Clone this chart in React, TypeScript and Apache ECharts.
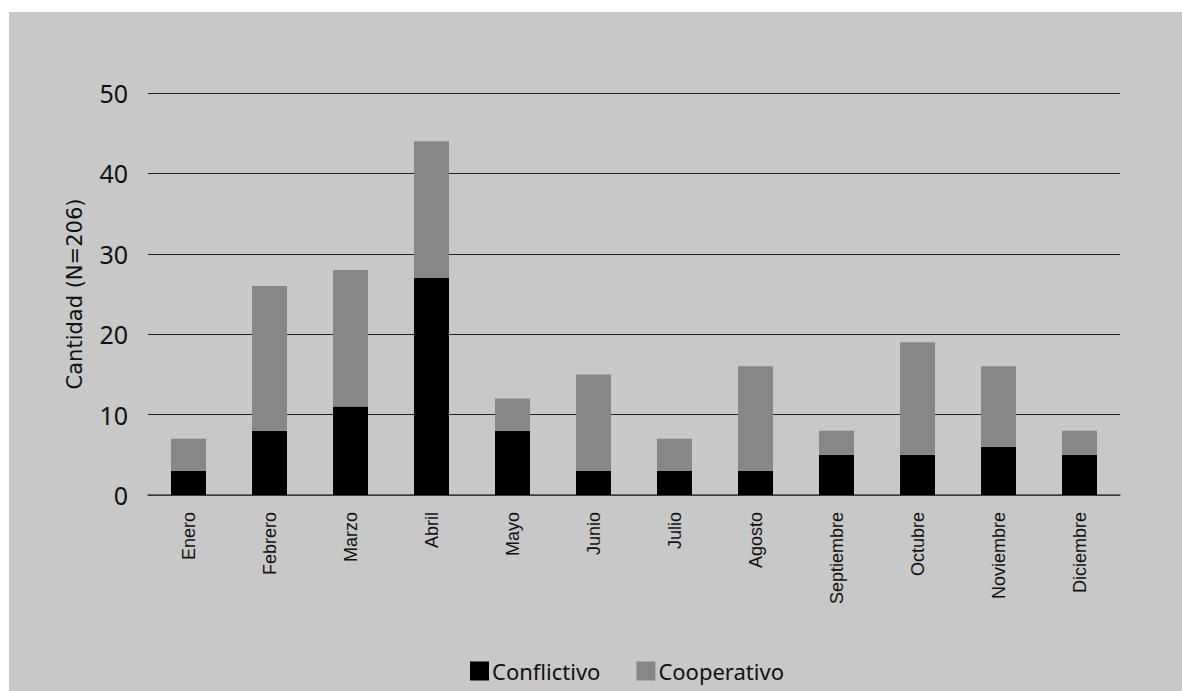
import React, { useEffect, useRef } from "react";
import * as echarts from "echarts";

const months = ["Enero", "Febrero", "Marzo", "Abril", "Mayo", "Junio", "Julio", "Agosto", "Septiembre", "Octubre", "Noviembre", "Diciembre"];
const conflictivo = [3, 8, 11, 27, 8, 3, 3, 3, 5, 5, 6, 5];
const cooperativo = [4, 18, 17, 17, 4, 12, 4, 13, 3, 14, 10, 3];
const yTicks = [0, 10, 20, 30, 40, 50];

export default function App() {
  const ref = useRef<HTMLDivElement>(null);
  useEffect(() => {
    const chart = echarts.init(ref.current!, null, { renderer: "svg" });
    chart.setOption({
      animation: false,
      backgroundColor: "transparent",
      textStyle: { fontFamily: "Noto Sans" },
      grid: { left: 139, right: 62, top: 81, bottom: 196, containLabel: false },
      legend: {
        bottom: 4,
        left: 456,
        itemWidth: 19,
        itemHeight: 19,
        itemGap: 36,
        icon: "rect",
        textStyle: { fontSize: 22, color: "#111", fontFamily: "Noto Sans", padding: [0, 0, 0, -2] },
        data: ["Conflictivo", "Cooperativo"],
      },
      xAxis: {
        type: "category",
        data: months,
        axisLine: { lineStyle: { color: "#444", width: 1.5 } },
        axisTick: { show: false },
        axisLabel: { rotate: 90, fontSize: 18, color: "#111", margin: 17, fontFamily: "Liberation Sans" },
      },
      yAxis: {
        type: "value",
        min: yTicks[0],
        max: yTicks[yTicks.length - 1],
        interval: 10,
        name: "Cantidad (N=206)",
        nameLocation: "middle",
        nameGap: 63,
        nameTextStyle: { fontSize: 21, color: "#111", fontFamily: "DejaVu Sans" },
        axisLine: { show: false },
        axisTick: { show: false },
        axisLabel: { fontSize: 25, color: "#111", margin: 20 },
        splitLine: { lineStyle: { color: "#222", width: 1.2 } },
      },
      series: [
        {
          name: "Conflictivo",
          type: "bar",
          stack: "total",
          data: conflictivo,
          barWidth: 35,
          itemStyle: { color: "#000" },
        },
        {
          name: "Cooperativo",
          type: "bar",
          stack: "total",
          data: cooperativo,
          barWidth: 35,
          itemStyle: { color: "#878787" },
        },
      ],
    });
    return () => chart.dispose();
  }, []);
  return (
    <div style={{ position: "fixed", left: 0, top: 0, width: 1182, height: 691, background: "#fff" }}>
      <div style={{ position: "absolute", left: 9, top: 12, width: 1173, height: 679, background: "#c8c8c8" }}>
        <div ref={ref} style={{ width: 1173, height: 679 }} />
      </div>
    </div>
  );
}
